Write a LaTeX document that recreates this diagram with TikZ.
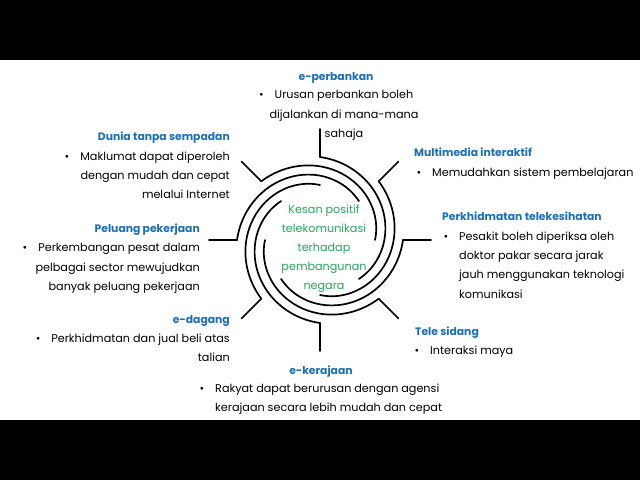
\documentclass[tikz,border=0pt]{standalone}
\usepackage{fontspec}
\setmainfont{Poppins}
\definecolor{hblue}{HTML}{1C6FB5}
\definecolor{cgreen}{HTML}{26A55C}
\newcommand\bodyfont{\fontsize{11.2}{19.3}\selectfont}
\newcommand\headfont{\fontsize{10.8}{19.3}\selectfont\bfseries}
\newcommand\centfont{\fontsize{11.2}{18.8}\selectfont}
\newcommand\bul{\llap{\textbullet\hspace{11pt}}}
\begin{document}
\begin{tikzpicture}[x=1pt,y=-1pt,
  hd/.style={font=\headfont,text=hblue,inner sep=0pt},
  bd/.style={font=\bodyfont,inner sep=0pt},
  arm/.style={line width=1.7pt,line cap=round},
  con/.style={line width=1.7pt,line cap=round}]
\useasboundingbox (0,0) rectangle (640,480);
\fill[black] (0,0) rectangle (640,60);
\fill[black] (0,420) rectangle (640,480);
% spiral arms
\foreach \a in {0,45,...,315}
  \draw[arm] plot[domain=0:135,samples=70,variable=\t]
    ({320+(83-\t*28/135)*cos(\a-\t)},{240-(83-\t*28/135)*sin(\a-\t)});
% connectors
\foreach \a/\n in {0/r,45/tr,90/t,135/tl,180/l,225/bl,270/b,315/br}{
  \coordinate (s\n) at ({320+83*cos(\a)},{240-83*sin(\a)});
  \coordinate (e\n) at ({320+111*cos(\a)},{240-111*sin(\a)});
  \draw[con] (e\n) -- (s\n);
}
% labels (base anchor = baseline of last line)
\node[hd,anchor=base] (h1) at (336,80) {e-perbankan};
\node[bd,anchor=base,align=center] (b1) at (344,137.3) {\bul Urusan perbankan boleh\\dijalankan di mana-mana\\sahaja};
\node[hd,anchor=base east] (h2) at (230,140.5) {Dunia tanpa sempadan};
\node[bd,anchor=base east,align=right] (b2) at (230,198.8) {\bul Maklumat dapat diperoleh\\dengan mudah dan cepat\\melalui Internet};
\node[hd,anchor=base east] (h3) at (200,232.5) {Peluang pekerjaan};
\node[bd,anchor=base east,align=right] (b3) at (200,290.3) {\bul Perkembangan pesat dalam\\pelbagai sector mewujudkan\\banyak peluang pekerjaan};
\node[hd,anchor=base west] (h4) at (414,156.5) {Multimedia interaktif};
\node[bd,anchor=base west,align=left] (b4) at (432,176.5) {\bul Memudahkan sistem pembelajaran};
\node[hd,anchor=base west] (h5) at (442,220.5) {Perkhidmatan telekesihatan};
\node[bd,anchor=base west,align=left] (b5) at (459,298.2) {\bul Pesakit boleh diperiksa oleh\\doktor pakar secara jarak\\jauh menggunakan teknologi\\komunikasi};
\node[hd,anchor=base west] (h6) at (415,335.5) {Tele sidang};
\node[bd,anchor=base west,align=left] (b6) at (430,354.5) {\bul Interaksi maya};
\node[hd,anchor=base east] (h7) at (230,323.5) {e-dagang};
\node[bd,anchor=base east,align=right] (b7) at (230,361.7) {\bul Perkhidmatan dan jual beli atas\\talian};
\node[hd,anchor=base] (h8) at (321,374.5) {e-kerajaan};
\node[bd,anchor=base west,align=left] (b8) at (215,411.7) {\bul Rakyat dapat berurusan dengan agensi\\kerajaan secara lebih mudah dan cepat};
\node[font=\centfont,text=cgreen,inner sep=0pt,align=center,anchor=base] (c) at (324,289) {Kesan positif\\telekomunikasi\\terhadap\\pembangunan\\negara};
\end{tikzpicture}
\end{document}
